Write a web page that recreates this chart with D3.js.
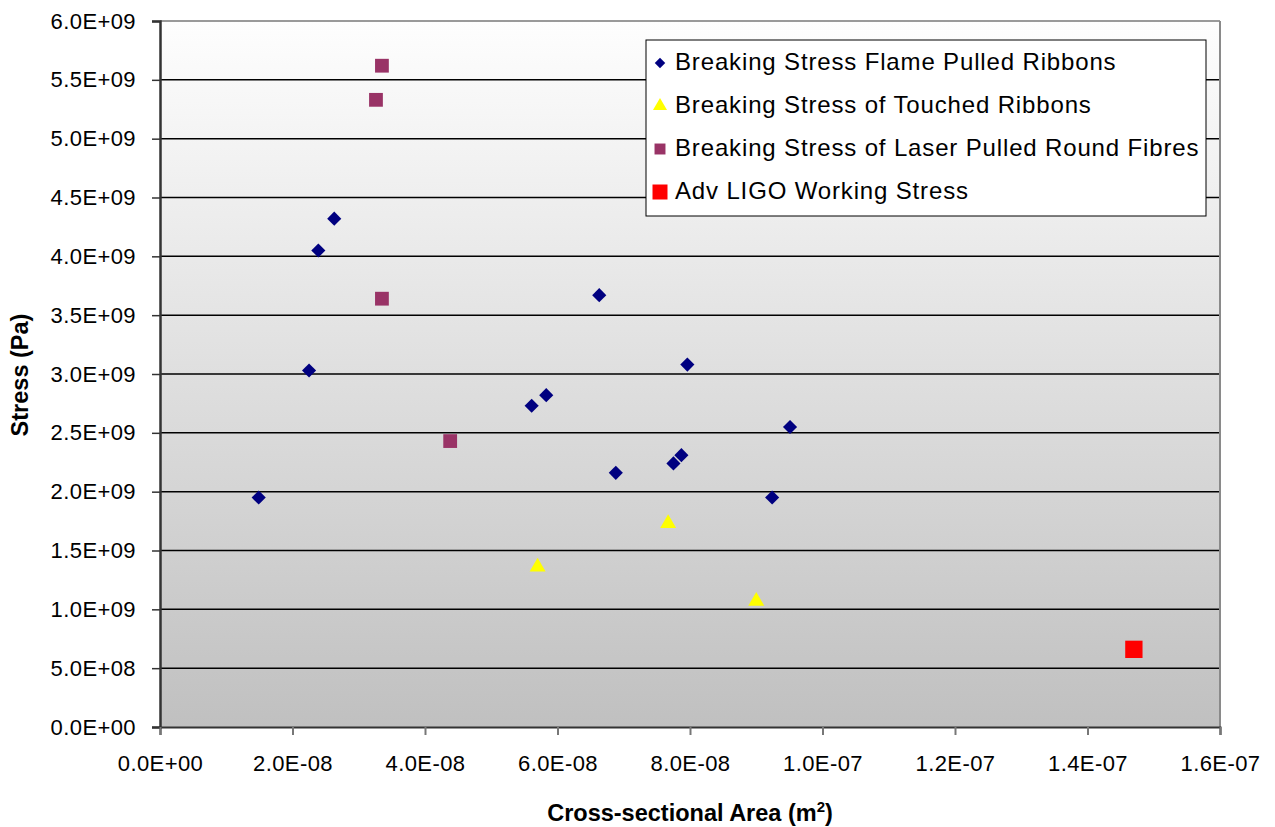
<!DOCTYPE html>
<html>
<head>
<meta charset="utf-8">
<script src="https://cdn.jsdelivr.net/npm/d3@7"></script>
<style>
  body { margin: 0; background: #fff; }
  text { font-family: "Liberation Sans", Arial, sans-serif; }
</style>
</head>
<body>
<div id="chart"></div>
<script>
// data
var flameX = [1.49e-8, 2.25e-8, 2.39e-8, 2.63e-8, 5.61e-8, 5.83e-8, 6.63e-8, 6.88e-8, 7.75e-8, 7.87e-8, 7.96e-8, 9.24e-8, 9.51e-8];
var flameY = [1.95e9, 3.03e9, 4.05e9, 4.32e9, 2.73e9, 2.82e9, 3.67e9, 2.16e9, 2.24e9, 2.31e9, 3.08e9, 1.95e9, 2.55e9];
var touchedX = [5.70e-8, 7.67e-8, 9.00e-8];
var touchedY = [1.36e9, 1.73e9, 1.07e9];
var laserX = [3.35e-8, 3.26e-8, 3.35e-8, 4.38e-8];
var laserY = [5.62e9, 5.33e9, 3.64e9, 2.43e9];
var ligoX = [1.47e-7];
var ligoY = [6.6e8];
var seriesNames = ["Breaking Stress Flame Pulled Ribbons", "Breaking Stress of Touched Ribbons",
                   "Breaking Stress of Laser Pulled Round Fibres", "Adv LIGO Working Stress"];
var xTicks = [0, 2e-8, 4e-8, 6e-8, 8e-8, 1e-7, 1.2e-7, 1.4e-7, 1.6e-7];
var yTicks = d3.range(0, 6.01e9, 5e8);

var margin = {top: 21, right: 55, bottom: 100, left: 160},
    width = 1275 - margin.left - margin.right,
    height = 827 - margin.top - margin.bottom;

var svg = d3.select("#chart")
  .append("svg")
    .attr("width", 1275)
    .attr("height", 827);

var defs = svg.append("defs");
var grad = defs.append("linearGradient")
    .attr("id", "bg")
    .attr("x1", 0).attr("y1", 0).attr("x2", 0).attr("y2", 1);
grad.append("stop").attr("offset", "0%").attr("stop-color", "#fefefe");
grad.append("stop").attr("offset", "100%").attr("stop-color", "#c0c0c0");

var g = svg.append("g")
    .attr("transform", "translate(" + margin.left + "," + margin.top + ")");

var x = d3.scaleLinear().domain([0, 1.6e-7]).range([0, width]);
var y = d3.scaleLinear().domain([0, 6e9]).range([height, 0]);

g.append("rect")
    .attr("width", width)
    .attr("height", height)
    .attr("fill", "url(#bg)");

// gridlines
g.selectAll(".grid")
  .data(yTicks.slice(1))
  .enter()
  .append("line")
    .attr("x1", 0).attr("x2", width)
    .attr("y1", function(d) { return y(d); })
    .attr("y2", function(d) { return y(d); })
    .attr("stroke", "#000")
    .attr("stroke-width", 1.5);

// plot border (top/right grey)
g.append("line").attr("x1", 0).attr("x2", width).attr("y1", 0).attr("y2", 0)
    .attr("stroke", "#9a9a9a").attr("stroke-width", 2);
g.append("line").attr("x1", width).attr("x2", width).attr("y1", 0).attr("y2", height)
    .attr("stroke", "#8a8a8a").attr("stroke-width", 2);

var fmt = function(d) {
    var s = d.toExponential(1).toUpperCase();
    return s.replace(/E([+-])(\d)$/, "E$10$2");
};

var yAxis = g.append("g")
    .call(d3.axisLeft(y).tickValues(yTicks).tickSize(8).tickPadding(16).tickFormat(fmt));
yAxis.select(".domain").attr("stroke", "#333").attr("stroke-width", 2.5);
yAxis.selectAll(".tick line").attr("stroke", "#333").attr("stroke-width", 1.5);
yAxis.selectAll("text").style("font-size", "22px").style("letter-spacing", "0.4px").attr("fill", "#000");

var xAxis = g.append("g")
    .attr("transform", "translate(0," + height + ")")
    .call(d3.axisBottom(x).tickValues(xTicks).tickSize(8).tickPadding(20).tickFormat(fmt));
xAxis.select(".domain").attr("stroke", "#333").attr("stroke-width", 2);
xAxis.selectAll(".tick line").attr("stroke", "#777").attr("stroke-width", 2);
xAxis.selectAll("text").style("font-size", "22px").style("letter-spacing", "0.4px").attr("fill", "#000");

// axis titles
svg.append("text")
    .attr("transform", "rotate(-90)")
    .attr("x", -375)
    .attr("y", 28)
    .style("text-anchor", "middle")
    .style("font-size", "23.5px")
    .style("font-weight", "bold")
    .text("Stress (Pa)");

var xt = svg.append("text")
    .attr("x", 690)
    .attr("y", 821)
    .style("text-anchor", "middle")
    .style("font-size", "23.5px")
    .style("font-weight", "bold");
xt.append("tspan").text("Cross-sectional Area (m");
xt.append("tspan").attr("dy", -9).style("font-size", "15px").text("2");
xt.append("tspan").attr("dy", 9).text(")");

// markers
var sym = {
    diamond: d3.symbol().type(d3.symbolSquare).size(100),
    triangle: d3.symbol().type(d3.symbolTriangle).size(110),
    square: d3.symbol().type(d3.symbolSquare).size(190),
    big: d3.symbol().type(d3.symbolSquare).size(300)
};

function plot(xs, ys, path, color, rot) {
    g.append("g").selectAll("path")
      .data(xs.map(function(v, i) { return [v, ys[i]]; }))
      .enter()
      .append("path")
        .attr("d", path)
        .attr("transform", function(d) {
            return "translate(" + x(d[0]) + "," + y(d[1]) + ")" + (rot ? " rotate(45)" : "");
        })
        .attr("fill", color);
}
plot(laserX, laserY, sym.square, "#993366", false);
plot(flameX, flameY, sym.diamond, "#000080", true);
plot(touchedX, touchedY, sym.triangle, "#ffff00", false);
plot(ligoX, ligoY, sym.big, "#ff0000", false);

// legend
var lg = svg.append("g").attr("transform", "translate(646,40)");
lg.append("rect")
    .attr("width", 560).attr("height", 176)
    .attr("fill", "#fff").attr("stroke", "#000").attr("stroke-width", 1);
var lsym = [
    {p: d3.symbol().type(d3.symbolSquare).size(55), c: "#000080", r: true},
    {p: d3.symbol().type(d3.symbolTriangle).size(85), c: "#ffff00", r: false},
    {p: d3.symbol().type(d3.symbolSquare).size(120), c: "#993366", r: false},
    {p: d3.symbol().type(d3.symbolSquare).size(225), c: "#ff0000", r: false}
];
seriesNames.forEach(function(name, i) {
    var cy = 21 + i * 43;
    lg.append("path")
        .attr("d", lsym[i].p)
        .attr("transform", "translate(14," + (cy + 2) + ")" + (lsym[i].r ? " rotate(45)" : ""))
        .attr("fill", lsym[i].c);
    lg.append("text")
        .attr("x", 29)
        .attr("y", cy + 9)
        .style("font-size", "24px")
        .style("letter-spacing", "0.85px")
        .text(name);
});
</script>
</body>
</html>
